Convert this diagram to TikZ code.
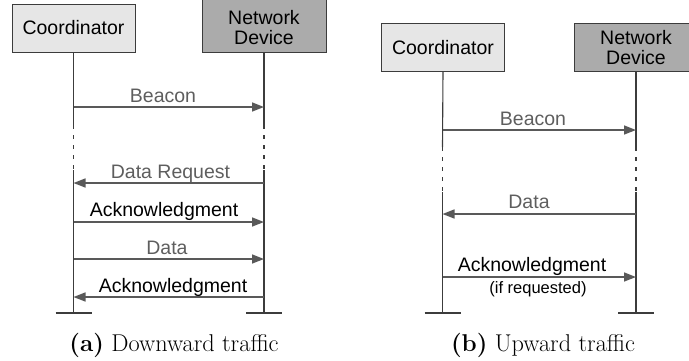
\documentclass[tikz,border=0pt]{standalone}
\usepackage{fontspec}
\newfontfamily\arialf{Liberation Sans}
\usetikzlibrary{arrows.meta}
\definecolor{boxlight}{HTML}{E6E6E6}
\definecolor{boxdark}{HTML}{ABABAB}
\definecolor{lifec}{HTML}{3C3C3C}
\definecolor{arrc}{HTML}{595959}
\definecolor{lblgray}{HTML}{5E5E5E}
\tikzset{
  actor/.style={draw=lifec, line width=0.9pt, minimum width=123pt, minimum height=48pt,
    inner sep=0pt, align=center, font=\arialf\fontsize{19.5}{20}\selectfont},
  actortext/.style={inner sep=0pt, align=center, font=\arialf\fontsize{19.5}{20}\selectfont},
  boxline/.style={draw=lifec, line width=0.9pt},
  life/.style={draw=lifec, line width=1.1pt},
  lifedash/.style={draw=lifec, line width=1.1pt, dash pattern=on 4pt off 6pt},
  foot/.style={draw=lifec, line width=1.2pt},
  msg/.style={draw=arrc, line width=1.5pt, -{Triangle[length=12pt,width=9pt]}},
  lbl/.style={anchor=base, inner sep=0pt, text=lblgray, font=\arialf\fontsize{19.5}{20}\selectfont},
  lblk/.style={anchor=base, inner sep=0pt, text=black, font=\arialf\fontsize{19.5}{20}\selectfont},
  lbls/.style={anchor=base, inner sep=0pt, text=black, font=\arialf\fontsize{16.5}{18}\selectfont},
  capt/.style={anchor=base, inner sep=0pt, font=\fontsize{24.3}{29}\selectfont}
}
\begin{document}
\begin{tikzpicture}[x=1pt,y=-1pt]
\useasboundingbox (0,0) rectangle (689,360);

% ---------------- (a) Downward traffic ----------------
\node[actor, fill=boxlight] (c1) at (73.5,28) {Coordinator};
\draw[boxline, fill=boxdark] (202,-6) rectangle (326,52);
\node[actortext] (n1) at (264,28) {Network\\Device};
\coordinate (n1s) at (264,52);

\coordinate (c1a) at (73.5,125);
\coordinate (c1b) at (73.5,170);
\coordinate (c1e) at (73.5,313);
\coordinate (n1a) at (264,125);
\coordinate (n1b) at (264,170);
\coordinate (n1e) at (264,313);

\draw[life] (c1.south) -- (c1a);
\draw[lifedash] (c1a) -- (c1b);
\draw[life] (c1b) -- (c1e);
\draw[foot] ([xshift=-18pt]c1e) -- ([xshift=18pt]c1e);
\draw[life] (n1s) -- (n1a);
\draw[lifedash] (n1a) -- (n1b);
\draw[life] (n1b) -- (n1e);
\draw[foot] ([xshift=-18pt]n1e) -- ([xshift=18pt]n1e);

\coordinate (c1m1) at (73.5,107);  \coordinate (n1m1) at (264,107);
\coordinate (c1m2) at (73.5,183);  \coordinate (n1m2) at (264,183);
\coordinate (c1m3) at (73.5,222);  \coordinate (n1m3) at (264,222);
\coordinate (c1m4) at (73.5,259);  \coordinate (n1m4) at (264,259);
\coordinate (c1m5) at (73.5,297);  \coordinate (n1m5) at (264,297);

\draw[msg] (c1m1) -- (n1m1);
\draw[msg] (n1m2) -- (c1m2);
\draw[msg] (c1m3) -- (n1m3);
\draw[msg] (c1m4) -- (n1m4);
\draw[msg] (n1m5) -- (c1m5);

\node[lbl]  (l1) at (163,102) {Beacon};
\node[lbl]  (l2) at (170.5,178) {Data Request};
\node[lblk] (l3) at (164,216) {Acknowledgment};
\node[lbl]  (l4) at (167,254) {Data};
\node[lblk] (l5) at (173,292) {Acknowledgment};

\node[capt] (capa) at (174,351) {\textbf{(a)} Downward traffic};

% ---------------- (b) Upward traffic ----------------
\node[actor, fill=boxlight] (c2) at (443,47.5) {Coordinator};
\node[actor, fill=boxdark] (n2) at (636,47.5) {Network\\Device};

\coordinate (c2a) at (442.5,147);
\coordinate (c2b) at (442.5,192);
\coordinate (c2e) at (442.5,313);
\coordinate (n2a) at (636,147);
\coordinate (n2b) at (636,192);
\coordinate (n2e) at (636,313);

\draw[life] (c2.south) -- (c2a);
\draw[lifedash] (c2a) -- (c2b);
\draw[life] (c2b) -- (c2e);
\draw[foot] ([xshift=-18pt]c2e) -- ([xshift=18pt]c2e);
\draw[life] (n2.south) -- (n2a);
\draw[lifedash] (n2a) -- (n2b);
\draw[life] (n2b) -- (n2e);
\draw[foot] ([xshift=-18pt]n2e) -- ([xshift=18pt]n2e);

\coordinate (c2m1) at (442.5,130);  \coordinate (n2m1) at (636,130);
\coordinate (c2m2) at (442.5,214);  \coordinate (n2m2) at (636,214);
\coordinate (c2m3) at (442.5,277);  \coordinate (n2m3) at (636,277);

\draw[msg] (c2m1) -- (n2m1);
\draw[msg] (n2m2) -- (c2m2);
\draw[msg] (c2m3) -- (n2m3);

\node[lbl]  (r1) at (533,125) {Beacon};
\node[lbl]  (r2) at (529,208) {Data};
\node[lblk] (r3) at (532,271) {Acknowledgment};
\node[lbls] (r4) at (538,293) {(if requested)};

\node[capt] (capb) at (543,351) {\textbf{(b)} Upward traffic};
\end{tikzpicture}
\end{document}
